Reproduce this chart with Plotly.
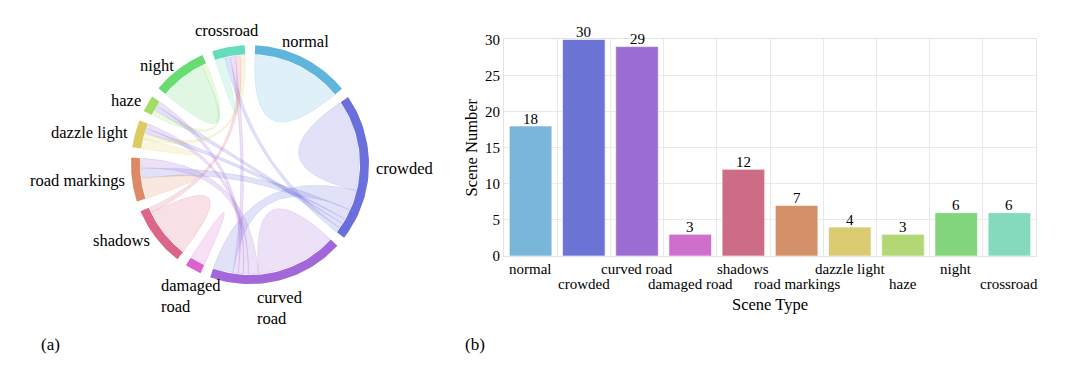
import numpy as np
import plotly.graph_objects as go

# ---- data ----
scene_types = ["normal", "crowded", "curved road", "damaged road", "shadows",
               "road markings", "dazzle light", "haze", "night", "crossroad"]
scene_counts = [18, 30, 29, 3, 12, 7, 4, 3, 6, 6]

# labels round the chord diagram (two-word ones wrapped like the original)
chord_labels = ["normal", "crowded", "curved<br>road", "damaged<br>road", "shadows",
                "road markings", "dazzle light", "haze", "night", "crossroad"]

# co-occurrence of scene types (symmetric)
cooccur = [
    [18, 0, 0, 0, 0, 0, 0, 0, 0, 0],
    [0, 18, 4, 0, 0, 2, 1, 1, 0, 1],
    [0, 4, 16, 0, 0, 2, 1, 1, 0, 1],
    [0, 0, 0, 3, 0, 0, 0, 0, 0, 0],
    [0, 0, 0, 0, 10, 0, 0, 0, 0, 1],
    [0, 2, 2, 0, 0, 4, 0, 0, 0, 0],
    [0, 1, 1, 0, 0, 0, 2, 0, 0, 1],
    [0, 1, 1, 0, 0, 0, 0, 0, 1, 0],
    [0, 0, 0, 0, 0, 0, 0, 1, 9, 0],
    [0, 1, 1, 0, 1, 0, 1, 0, 0, 2],
]

arc_colors = ["#60b5dd", "#6a6fdb", "#a267d9", "#db62cf", "#dc6687",
              "#dc8a65", "#dccb65", "#a3dc65", "#66dc71", "#66dcbf"]
bar_colors = ["#7ab6d9", "#6b74d4", "#9b6dd3", "#cf6fcc", "#cd6c86",
              "#d49068", "#dbcb73", "#b1d874", "#83d57d", "#85dabd"]

FONT = "Liberation Serif"
# placement of the figure in the photographed page (measured):
# x is 1:1 with an 8px offset, y starts at 16px and is squeezed to ~0.952
LEFT, TOP, SY = 8, 16, 0.952
W, H = 1064, 363


def px(X):
    return (X - LEFT) / W


def py(Y):
    return 1 - (Y - TOP) / SY / H


def rgba(hx, a):
    return "rgba(%d,%d,%d,%s)" % (int(hx[1:3], 16), int(hx[3:5], 16), int(hx[5:7], 16), a)


def pt(r, th):
    return np.array([r * np.sin(th), r * np.cos(th)])


def arc(r, a0, a1, k=40):
    th = np.linspace(a0, a1, k)
    return np.vstack([r * np.sin(th), r * np.cos(th)])


def bez(p0, p2, k=40):
    t = np.linspace(0, 1, k)
    return np.outer(p0, (1 - t) ** 2) + np.outer(p2, t ** 2)


fig = go.Figure()

# ---- (a) chord diagram ----
n = len(scene_types)
M = np.array(cooccur, float)
pad = np.radians(5)
unit = (2 * np.pi - n * pad) / M.sum()
R_out, R_in, R_rib = 119, 110, 109

groups, sub = [], {}
a = pad / 2
for i in range(n):
    a0 = a
    for k in range(n):
        j = (i + k) % n
        if M[i, j] > 0:
            sub[(i, j)] = (a, a + M[i, j] * unit)
            a += M[i, j] * unit
    groups.append((a0, a))
    a += pad

for i in range(n):
    for j in range(i, n):
        if M[i, j] == 0:
            continue
        s0, s1 = sub[(i, j)]
        if i == j:
            path = np.hstack([arc(R_rib, s0, s1), bez(pt(R_rib, s1), pt(R_rib, s0))])
        else:
            t0, t1 = sub[(j, i)]
            path = np.hstack([arc(R_rib, s0, s1), bez(pt(R_rib, s1), pt(R_rib, t0)),
                              arc(R_rib, t0, t1), bez(pt(R_rib, t1), pt(R_rib, s0))])
        c = arc_colors[i]
        fig.add_trace(go.Scatter(x=path[0], y=path[1], xaxis="x2", yaxis="y2", mode="lines",
                                 fill="toself", fillcolor=rgba(c, 0.2),
                                 line=dict(color=rgba(c, 0.25), width=0.6),
                                 hoverinfo="skip", showlegend=False))

for i, (a0, a1) in enumerate(groups):
    path = np.hstack([arc(R_out, a0, a1), arc(R_in, a1, a0)])
    fig.add_trace(go.Scatter(x=path[0], y=path[1], xaxis="x2", yaxis="y2", mode="lines",
                             fill="toself", fillcolor=arc_colors[i], line=dict(width=0),
                             hoverinfo="skip", showlegend=False))
    mid = (a0 + a1) / 2
    s, c = np.sin(mid), np.cos(mid)
    xa = "left" if s > 0.5 else ("right" if s < -0.5 else "center")
    ya = "bottom" if c > 0.8 else ("top" if c < -0.8 else "middle")
    lx, ly = pt(R_out + 5, mid)
    fig.add_annotation(x=lx, y=ly, xref="x2", yref="y2", text=chord_labels[i],
                       xanchor=xa, yanchor=ya, showarrow=False, align="left",
                       font=dict(family=FONT, size=16.5, color="black"))

# chord centre at page (250, 164); one data unit = one page pixel both ways
cx, cy = 250, 164
fig.update_layout(
    xaxis2=dict(domain=[0, 0.45], range=[LEFT - cx, LEFT + 0.45 * W - cx],
                visible=False, anchor="y2"),
    yaxis2=dict(domain=[0, 1], range=[cy - (TOP + SY * H), cy - TOP],
                visible=False, anchor="x2"),
)

# ---- (b) bar chart ----
fig.add_trace(go.Bar(x=scene_types, y=scene_counts, marker_color=bar_colors,
                     marker_line=dict(color="rgba(255,255,255,0.6)", width=1),
                     width=0.8, showlegend=False, hoverinfo="x+y"))

for i, (name, v) in enumerate(zip(scene_types, scene_counts)):
    fig.add_annotation(x=name, y=v, xref="x", yref="y", text=str(v), showarrow=False,
                       yanchor="middle", yshift=7 / SY,
                       font=dict(family=FONT, size=15, color="black"))
    fig.add_annotation(x=name, y=0, xref="x", yref="y", text=name, showarrow=False,
                       yanchor="top", yshift=(-3 if i % 2 == 0 else -17) / SY,
                       font=dict(family=FONT, size=15, color="black"))

grid = "#e9e9e9"
fig.update_layout(
    xaxis=dict(domain=[px(504), px(1036)], type="category", tickson="boundaries",
               showgrid=True, gridcolor=grid, showticklabels=False, ticks="",
               showline=True, linecolor="#e2e2e2", mirror=True, range=[-0.5, 9.5]),
    yaxis=dict(domain=[py(255), py(39.3)], range=[0, 30], dtick=5,
               showgrid=True, gridcolor=grid, zeroline=False, ticks="",
               showline=True, linecolor="#e2e2e2", mirror=True,
               tickfont=dict(family=FONT, size=15, color="black")),
)

fig.add_annotation(x=px(472), y=py(147), xref="paper", yref="paper", text="Scene Number",
                   textangle=-90, showarrow=False, xanchor="center", yanchor="middle",
                   font=dict(family=FONT, size=16.5, color="black"))
fig.add_annotation(x=px(770), y=py(303), xref="paper", yref="paper", text="Scene Type",
                   showarrow=False, xanchor="center", yanchor="middle",
                   font=dict(family=FONT, size=16.5, color="black"))
fig.add_annotation(x=px(50), y=py(343), xref="paper", yref="paper", text="(a)",
                   showarrow=False, xanchor="center", yanchor="middle",
                   font=dict(family=FONT, size=17, color="black"))
fig.add_annotation(x=px(475), y=py(343), xref="paper", yref="paper", text="(b)",
                   showarrow=False, xanchor="center", yanchor="middle",
                   font=dict(family=FONT, size=17, color="black"))

fig.update_layout(width=W, height=H, margin=dict(l=0, r=0, t=0, b=0),
                  paper_bgcolor="white", plot_bgcolor="white",
                  font=dict(family=FONT, color="black"))

fig.write_html("out.html")
